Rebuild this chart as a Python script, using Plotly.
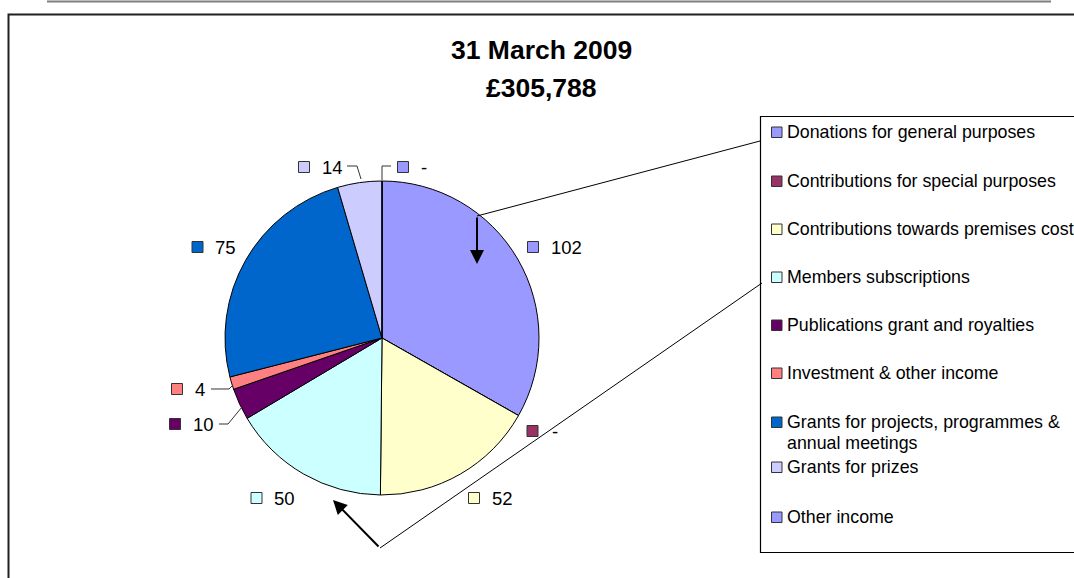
import plotly.graph_objects as go

W, H = 1074, 578

# ---- data ----
categories = [
    "Donations for general purposes",
    "Contributions for special purposes",
    "Contributions towards premises costs",
    "Members subscriptions",
    "Publications grant and royalties",
    "Investment & other income",
    "Grants for projects, programmes &\nannual meetings",
    "Grants for prizes",
    "Other income",
]
values = [102, 0, 52, 50, 10, 4, 75, 14, 0]
value_labels = ["102", "-", "52", "50", "10", "4", "75", "14", "-"]
colors = ["#9999FF", "#993366", "#FFFFCC", "#CCFFFF", "#660066",
          "#FF8080", "#0066CC", "#CCCCFF", "#9999FF"]
title_lines = ["31 March 2009", "£305,788"]

FONT = "Arial, Liberation Sans, sans-serif"


def px(x):
    return x / W


def py(y):
    return 1 - y / H


# pie geometry (pixels)
CX, CY, R = 382, 338, 157

fig = go.Figure()
fig.add_trace(go.Pie(
    labels=[c.replace("\n", " ") for c in categories],
    values=values,
    sort=False,
    direction="clockwise",
    rotation=0,
    marker=dict(colors=colors, line=dict(color="black", width=1)),
    textinfo="none",
    hoverinfo="label+value",
    showlegend=False,
    domain=dict(x=[px(CX - R), px(CX + R)], y=[py(CY + R), py(CY - R)]),
))

shapes = []
annotations = []

# outer frame and top rule
shapes.append(dict(type="line", xref="paper", yref="paper",
                   x0=px(47), x1=px(1051), y0=py(1.5), y1=py(1.5),
                   line=dict(color="#7f7f7f", width=2)))
shapes.append(dict(type="rect", xref="paper", yref="paper",
                   x0=px(8.5), x1=px(1200), y0=py(14.5), y1=py(700),
                   line=dict(color="#202020", width=2)))

# title
for txt, y in zip(title_lines, [50, 88]):
    annotations.append(dict(text="<b>%s</b>" % txt, x=px(541), y=py(y),
                            xref="paper", yref="paper", showarrow=False,
                            xanchor="center", yanchor="middle",
                            font=dict(family=FONT, size=26.5, color="black")))

# legend box
shapes.append(dict(type="rect", xref="paper", yref="paper",
                   x0=px(760.5), x1=px(1200), y0=py(116.5), y1=py(552.5),
                   line=dict(color="black", width=1.2), fillcolor="white",
                   layer="below"))
legend_y = [132, 181, 229, 277, 325, 373, 422, 467, 517]
for cat, col, y in zip(categories, colors, legend_y):
    shapes.append(dict(type="rect", xref="paper", yref="paper",
                       x0=px(771.5), x1=px(782), y0=py(y - 5), y1=py(y + 5.5),
                       line=dict(color="#333333", width=1), fillcolor=col))
    for i, line in enumerate(cat.split("\n")):
        annotations.append(dict(text=line, x=px(785), y=py(y + 21 * i),
                                xref="paper", yref="paper", showarrow=False,
                                xanchor="left", yanchor="middle",
                                font=dict(family=FONT, size=17.8, color="black")))

# data labels (marker centre x, y, text start x)
label_pos = [(533, 247, 549), (532.5, 431, 550), (474, 498, 490),
             (256.5, 498, 272), (175, 424, 191), (177, 389, 193),
             (197.5, 247, 213), (304, 167, 320), (403, 167, 419)]
for lab, col, (mx, my, tx) in zip(value_labels, colors, label_pos):
    shapes.append(dict(type="rect", xref="paper", yref="paper",
                       x0=px(mx - 5.5), x1=px(mx + 5.5), y0=py(my - 5.5), y1=py(my + 5.5),
                       line=dict(color="#333333", width=1), fillcolor=col))
    annotations.append(dict(text=lab, x=px(tx), y=py(my), xref="paper", yref="paper",
                            showarrow=False, xanchor="left", yanchor="middle",
                            font=dict(family=FONT, size=18.5, color="black")))


def path(pts):
    return "M " + " L ".join("%f,%f" % (px(x), py(y)) for x, y in pts)


# leader lines for small slices
leaders = [
    [(347, 166), (357, 166), (361, 179)],   # 14
    [(391, 166), (382, 166), (382, 180)],   # other income
    [(211, 389), (229, 389), (233, 385)],   # 4
    [(219, 424), (228, 424), (242, 407)],   # 10
]
for pts in leaders:
    shapes.append(dict(type="path", xref="paper", yref="paper", path=path(pts),
                       line=dict(color="#333333", width=1)))

# callout lines from legend into the pie
shapes.append(dict(type="path", xref="paper", yref="paper",
                   path=path([(760, 141), (477, 216)]),
                   line=dict(color="black", width=1)))
shapes.append(dict(type="path", xref="paper", yref="paper",
                   path=path([(762, 283), (380, 548)]),
                   line=dict(color="black", width=1)))
arrows = [((477, 264), (477, 216)), ((333, 500), (380, 548))]
for (hx, hy), (tx, ty) in arrows:
    annotations.append(dict(text="", x=px(hx), y=py(hy), xref="paper", yref="paper",
                            ax=tx - hx, ay=ty - hy, axref="pixel", ayref="pixel",
                            showarrow=True, arrowhead=2, arrowsize=1.4,
                            arrowwidth=2, arrowcolor="black", standoff=0))

fig.update_layout(
    width=W, height=H,
    margin=dict(l=0, r=0, t=0, b=0),
    paper_bgcolor="white", plot_bgcolor="white",
    shapes=shapes, annotations=annotations,
    font=dict(family=FONT),
)

fig.write_html("out.html", config={"displayModeBar": False},
               post_script="document.body.style.margin='0';document.body.style.overflow='hidden';")
